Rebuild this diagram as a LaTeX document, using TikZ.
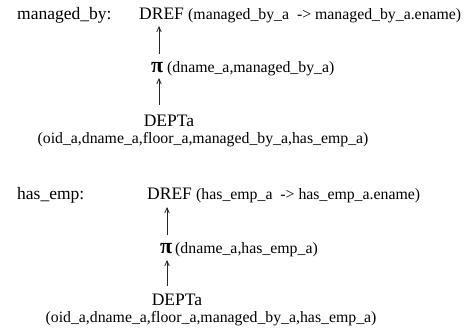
\documentclass[tikz,border=0pt]{standalone}
\usepackage{fontspec}
\setmainfont{Liberation Serif}
\usetikzlibrary{arrows.meta}
\begin{document}
\begin{tikzpicture}[x=1pt,y=-1pt,
  big/.style={inner sep=0pt,font=\fontsize{17.5}{19}\selectfont},
  small/.style={inner sep=0pt,font=\fontsize{15.8}{17}\selectfont},
  pisym/.style={inner sep=0pt,font=\fontsize{22}{24}\selectfont\bfseries},
  flow/.style={draw=black!85,line width=0.8pt,-{Straight Barb[length=5pt,width=4.5pt]}}]
\useasboundingbox (0,0) rectangle (471,333);
% managed_by
\node[big,anchor=base west] (lab1) at (17,19) {managed\_by:};
\node[big,anchor=base west] (dref1) at (139,19) {DREF};
\node[small,anchor=base west] (arg1) at (188,19) {(managed\_by\_a\ \ -> managed\_by\_a.ename)};
\node[pisym,anchor=base west] (pi1) at (151,72) {π};
\node[small,anchor=base west] (parg1) at (167,72) {(dname\_a,managed\_by\_a)};
\node[big,anchor=base] (dept1) at (169,126) {DEPTa};
\node[small,anchor=base] (dargs1) at (203,143) {(oid\_a,dname\_a,floor\_a,managed\_by\_a,has\_emp\_a)};
\coordinate (u1) at (159,54); \coordinate (v1) at (159,26);
\coordinate (u2) at (159,105); \coordinate (v2) at (159,78);
\draw[flow] (u1) -- (v1);
\draw[flow] (u2) -- (v2);
% has_emp
\node[big,anchor=base west] (lab2) at (17,199) {has\_emp:};
\node[big,anchor=base west] (dref2) at (147,199) {DREF};
\node[small,anchor=base west] (arg2) at (196,199) {(has\_emp\_a\ \ -> has\_emp\_a.ename)};
\node[pisym,anchor=base west] (pi2) at (160,253) {π};
\node[small,anchor=base west] (parg2) at (175,253) {(dname\_a,has\_emp\_a)};
\node[big,anchor=base] (dept2) at (177,305) {DEPTa};
\node[small,anchor=base] (dargs2) at (211,322) {(oid\_a,dname\_a,floor\_a,managed\_by\_a,has\_emp\_a)};
\coordinate (u3) at (167,235); \coordinate (v3) at (167,207);
\coordinate (u4) at (167,286); \coordinate (v4) at (167,260);
\draw[flow] (u3) -- (v3);
\draw[flow] (u4) -- (v4);
\end{tikzpicture}
\end{document}
